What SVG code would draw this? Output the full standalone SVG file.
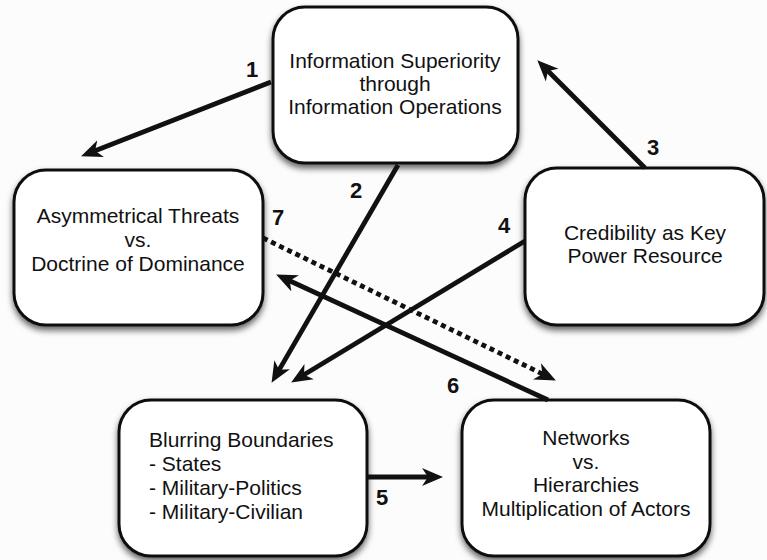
<svg xmlns="http://www.w3.org/2000/svg" width="767" height="560" viewBox="0 0 767 560">
  <defs>
    <filter id="sh" x="-10%" y="-10%" width="120%" height="130%">
      <feDropShadow dx="0" dy="4" stdDeviation="3" flood-color="#000" flood-opacity="0.6"/>
    </filter>
    <marker id="ah" markerUnits="userSpaceOnUse" markerWidth="22" markerHeight="20" viewBox="0 0 22 20" refX="8" refY="10" orient="auto">
      <path d="M0,1 L21,10 L0,19 L6,10 z" fill="#111"/>
    </marker>
    <style>
      .box { fill: #ffffff; stroke: #111; stroke-width: 3; }
      .t { font-family: "Liberation Sans", Arial, sans-serif; font-size: 21px; fill: #111; }
      .c { text-anchor: middle; }
      .lbl { font-family: "Liberation Sans", Arial, sans-serif; font-size: 22px; font-weight: bold; fill: #111; }
      .ln { stroke: #111; stroke-width: 4.8; fill: none; marker-end: url(#ah); }
      .dot { stroke-dasharray: 5 4; }
    </style>
  </defs>
  <rect width="767" height="560" fill="#fcfcfc"/>

  <g id="node-info">
    <rect class="box" x="273" y="7" width="245" height="156" rx="32" filter="url(#sh)"/>
    <text class="t c" x="395" y="68">Information Superiority</text>
    <text class="t c" x="395" y="91">through</text>
    <text class="t c" x="395" y="114">Information Operations</text>
  </g>

  <g id="node-asym">
    <rect class="box" x="14" y="170" width="249" height="155" rx="32" filter="url(#sh)"/>
    <text class="t c" x="138" y="223">Asymmetrical Threats</text>
    <text class="t c" x="138" y="247">vs.</text>
    <text class="t c" x="138" y="271">Doctrine of Dominance</text>
  </g>

  <g id="node-cred">
    <rect class="box" x="525" y="168" width="239" height="157" rx="32" filter="url(#sh)"/>
    <text class="t c" x="645" y="240">Credibility as Key</text>
    <text class="t c" x="645" y="263">Power Resource</text>
  </g>

  <g id="node-blur">
    <rect class="box" x="119" y="400" width="248" height="156" rx="32" filter="url(#sh)"/>
    <text class="t" x="149" y="447">Blurring Boundaries</text>
    <text class="t" x="149" y="471">- States</text>
    <text class="t" x="149" y="495">- Military-Politics</text>
    <text class="t" x="149" y="519">- Military-Civilian</text>
  </g>

  <g id="node-net">
    <rect class="box" x="462" y="400" width="248" height="156" rx="32" filter="url(#sh)"/>
    <text class="t c" x="586" y="445">Networks</text>
    <text class="t c" x="586" y="469">vs.</text>
    <text class="t c" x="586" y="492">Hierarchies</text>
    <text class="t c" x="586" y="516">Multiplication of Actors</text>
  </g>

  <g id="connectors">
    <line class="ln" x1="271" y1="82" x2="93.2" y2="151.6"/>
    <line class="ln" x1="398" y1="165" x2="278.1" y2="371.6"/>
    <line class="ln" x1="645" y1="168" x2="546.5" y2="69.5"/>
    <line class="ln" x1="525" y1="241" x2="302.3" y2="375.8"/>
    <line class="ln" x1="367" y1="477" x2="430" y2="477"/>
    <line class="ln" x1="548" y1="400" x2="287.9" y2="280"/>
    <line class="ln dot" x1="263" y1="238" x2="544.2" y2="374.8"/>
    <text class="lbl" x="246" y="77">1</text>
    <text class="lbl" x="350" y="198">2</text>
    <text class="lbl" x="647" y="155">3</text>
    <text class="lbl" x="498" y="233">4</text>
    <text class="lbl" x="376" y="505">5</text>
    <text class="lbl" x="447" y="393">6</text>
    <text class="lbl" x="272" y="225">7</text>
  </g>
</svg>
